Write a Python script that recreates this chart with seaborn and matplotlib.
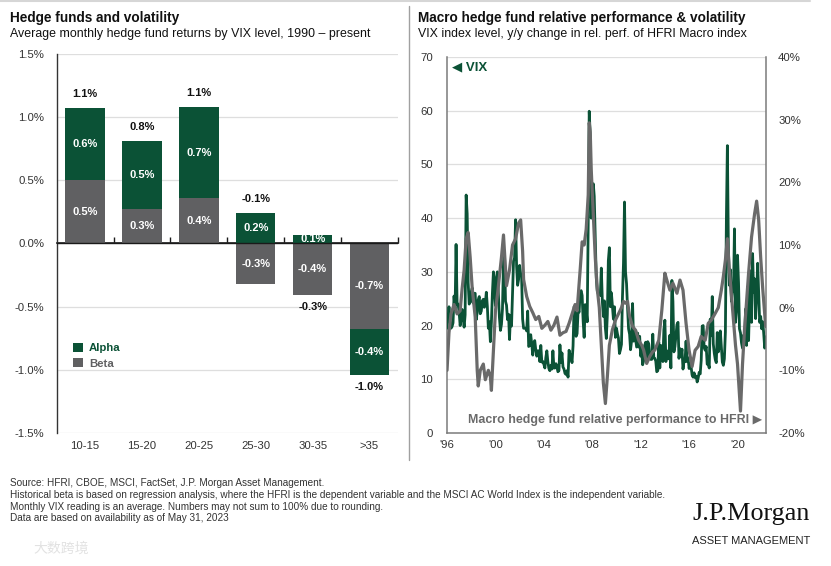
import numpy as np
import pandas as pd
import matplotlib
matplotlib.use("Agg")
import matplotlib.pyplot as plt
from matplotlib.lines import Line2D
from matplotlib.patches import Patch
from matplotlib import font_manager
from matplotlib.ticker import FuncFormatter
import seaborn as sns

# ---------------- data ----------------
vix_levels = ["10-15", "15-20", "20-25", "25-30", "30-35", ">35"]
beta_return = [0.50, 0.27, 0.36, -0.32, -0.41, -0.675]
alpha_return = [0.574, 0.545, 0.72, 0.245, 0.07, -0.365]
total_label_side = ["above", "above", "above", "above", "below", "below"]

vix_first_month = "1997-01"
vix_month_end = [
    19.5, 21.5, 23.5, 21.0, 19.5, 19.8, 20.5, 25.5, 23.0, 35.1, 24.0, 24.0,
    22.5, 20.0, 21.2, 23.0, 21.5, 19.7, 22.0, 44.3, 40.8, 28.0, 24.0, 24.4,
    26.3, 27.0, 24.2, 26.0, 26.0, 21.1, 22.5, 24.8, 25.4, 22.2, 22.7, 24.6,
    24.9, 23.4, 24.1, 26.2, 23.6, 19.5, 20.7, 17.0, 20.6, 26.0, 30.0, 26.9,
    23.7, 29.0, 30.0, 25.5, 21.5, 19.1, 20.2, 23.1, 31.9, 33.6, 24.5, 23.8,
    21.1, 22.1, 17.4, 21.9, 19.9, 25.8, 32.0, 32.6, 39.7, 31.1, 27.5, 28.6,
    31.2, 29.6, 29.2, 21.2, 19.5, 19.5, 19.5, 19.0, 22.7, 16.1, 16.3, 18.3,
    16.6, 14.5, 16.7, 17.2, 15.5, 14.3, 15.3, 15.3, 13.3, 16.3, 13.2, 13.3,
    12.8, 12.1, 14.0, 15.3, 13.3, 12.0, 11.6, 12.6, 11.9, 15.3, 12.1, 12.1,
    12.9, 12.3, 11.4, 11.6, 16.4, 13.1, 14.9, 12.3, 11.9, 11.1, 10.9, 11.6,
    10.4, 15.4, 14.6, 14.2, 13.1, 16.2, 23.5, 23.4, 18.0, 18.5, 22.9, 22.5,
    26.2, 26.5, 25.6, 20.8, 17.8, 23.9, 22.9, 20.7, 39.4, 59.9, 55.3, 40.0,
    44.8, 46.4, 44.1, 36.5, 28.9, 26.4, 25.9, 26.0, 25.6, 30.7, 24.5, 21.7,
    24.6, 19.5, 17.6, 22.1, 32.1, 34.5, 23.5, 26.1, 23.7, 21.2, 23.5, 17.8,
    19.5, 18.4, 17.7, 14.8, 15.5, 16.5, 25.3, 31.6, 43.0, 30.0, 27.8, 23.4,
    19.4, 18.4, 15.5, 17.2, 24.1, 17.1, 18.9, 17.5, 16.0, 18.6, 16.0, 18.0,
    14.3, 15.5, 12.7, 13.5, 16.3, 16.9, 13.5, 17.0, 16.6, 13.8, 13.7, 13.7,
    18.4, 14.0, 13.9, 13.4, 11.4, 11.6, 17.0, 12.1, 16.3, 14.0, 13.3, 19.2,
    21.0, 13.3, 15.3, 14.6, 13.8, 18.2, 12.1, 28.4, 24.5, 15.1, 16.1, 18.2,
    20.2, 20.6, 13.9, 15.7, 14.2, 15.6, 11.9, 13.4, 13.3, 17.1, 13.3, 14.0,
    12.0, 12.9, 12.4, 10.8, 10.4, 11.2, 10.3, 10.6, 9.5, 10.2, 11.3, 11.0,
    13.5, 19.9, 20.0, 15.9, 15.4, 16.1, 12.8, 12.9, 12.1, 21.2, 18.1, 25.4,
    16.6, 14.8, 13.7, 13.1, 18.7, 15.1, 16.1, 19.0, 16.2, 13.2, 12.6, 13.8,
    18.8, 40.1, 53.5, 34.2, 27.5, 30.4, 24.5, 26.4, 26.4, 38.0, 20.6, 22.8,
    33.1, 27.9, 19.4, 18.6, 16.8, 15.8, 18.2, 16.5, 23.1, 16.3, 27.2, 17.2,
    24.8, 30.2, 20.6, 33.4, 26.2, 28.7, 21.3, 25.9, 31.6, 25.9, 20.6, 21.7,
    19.4, 20.7, 18.7, 15.8, 17.9,
]

macro_rel_dates = [
    "1997-01", "1997-03", "1997-05", "1997-08", "1997-11", "1998-02", "1998-04",
    "1998-06", "1998-08", "1998-10", "1998-12", "1999-02", "1999-05", "1999-07",
    "1999-08", "1999-10", "2000-01", "2000-03", "2000-06", "2000-08", "2000-09",
    "2000-11", "2001-01", "2001-03", "2001-05", "2001-07", "2001-09", "2001-11",
    "2001-12", "2002-03", "2002-06", "2002-09", "2002-12", "2003-02", "2003-04",
    "2003-05", "2003-08", "2003-11", "2004-02", "2004-05", "2004-08", "2004-11",
    "2005-02", "2005-05", "2005-08", "2005-11", "2006-02", "2006-05", "2006-08",
    "2006-11", "2007-02", "2007-05", "2007-08", "2007-10", "2008-01", "2008-03",
    "2008-05", "2008-07", "2008-09", "2008-10", "2008-11", "2008-12", "2009-02",
    "2009-04", "2009-06", "2009-08", "2009-10", "2009-12", "2010-02", "2010-04",
    "2010-06", "2010-09", "2010-12", "2011-03", "2011-06", "2011-08", "2011-10",
    "2011-12", "2012-02", "2012-05", "2012-08", "2012-11", "2013-02", "2013-04",
    "2013-07", "2013-10", "2014-01", "2014-03", "2014-07", "2014-10", "2015-01",
    "2015-03", "2015-06", "2015-09", "2016-01", "2016-04", "2016-07", "2016-10",
    "2017-01", "2017-04", "2017-07", "2017-10", "2018-01", "2018-05", "2018-08",
    "2018-11", "2019-03", "2019-06", "2019-09", "2019-11", "2020-01", "2020-03",
    "2020-05", "2020-07", "2020-09", "2020-11", "2021-01", "2021-04", "2021-06",
    "2021-08", "2021-10", "2021-12", "2022-03", "2022-06", "2022-08", "2022-10",
    "2022-12", "2023-02", "2023-05",
]
macro_rel_perf = [
    -10.0, -4.0, -1.0, 0.5, -1.0, -0.5, 3.0,
    6.0, 11.0, 12.0, 8.0, 3.0, -1.5, -10.0,
    -12.5, -10.0, -9.0, -11.5, -10.0, -11.0, -13.2,
    -7.0, -0.5, 2.0, 5.0, 8.0, 11.6, 6.0,
    3.5, 6.0, 10.0, 11.0, 13.5, 14.0, 9.0,
    4.5, 1.8, 0.2, -0.8, -1.9, -1.4, -3.3,
    -2.8, -2.2, -3.6, -2.8, -1.5, -4.4, -4.0,
    -3.8, -2.5, -1.0, 0.5, -0.5, 6.0, 10.5,
    10.0, 12.5, 18.0, 29.5, 28.0, 22.0, 15.0,
    8.0, 3.0, 0.0, -6.0, -12.0, -15.3, -11.0,
    -6.0, -3.5, -2.0, -1.0, 0.0, 1.0, 0.7,
    1.0, -1.4, -3.0, -3.6, -5.2, -6.0, -6.8,
    -8.9, -7.8, -7.0, -6.8, -5.2, -0.4, 5.5,
    4.4, 2.8, 3.9, 2.3, 4.4, 2.8, -2.5,
    -6.8, -9.4, -6.8, -6.2, -4.6, -5.2, -2.5,
    -2.0, -0.9, 0.0, 2.8, 5.0, 7.6, 11.0,
    6.0, 2.0, -2.0, -6.0, -9.0, -16.5, -9.0,
    -3.5, 1.0, 5.5, 11.3, 15.0, 17.0, 14.0,
    8.0, 3.0, -3.0,
]

bar_ticks = [-1.5, -1.0, -0.5, 0.0, 0.5, 1.0, 1.5]
vix_ticks = [0, 10, 20, 30, 40, 50, 60, 70]
rel_ticks = [-20, -10, 0, 10, 20, 30, 40]
year_ticks = [1996, 2000, 2004, 2008, 2012, 2016, 2020]

# ---------------- style ----------------
sns.set_theme(style="white")
avail = {f.name for f in font_manager.fontManager.ttflist}
BASE = "Liberation Sans" if "Liberation Sans" in avail else "DejaVu Sans"
SERIF = "Liberation Serif" if "Liberation Serif" in avail else "DejaVu Serif"
plt.rcParams["font.family"] = [BASE, "DejaVu Sans"]

GREEN = "#0b5236"
GRAYBAR = "#606062"
GRAYLINE = "#6a6a6a"
GRID = "#dedede"
TXT = "#333333"

fig = plt.figure(figsize=(8.31, 5.66), dpi=100)

# ---------------- left: bars ----------------
ax1 = fig.add_axes([0.0682, 0.235, 0.4107, 0.6696])
bars = pd.DataFrame({"level": vix_levels, "beta": beta_return, "alpha": alpha_return})
b = np.array(beta_return)
a = np.array(alpha_return)
alpha_bottom = np.where(np.sign(a) == np.sign(b), b, 0.0)

sns.barplot(data=bars, x="level", y="beta", color=GRAYBAR, saturation=1,
            width=0.69, linewidth=0, errorbar=None, ax=ax1, zorder=3)
sns.barplot(data=bars, x="level", y="alpha", bottom=alpha_bottom, color=GREEN,
            saturation=1, width=0.69, linewidth=0, errorbar=None, ax=ax1, zorder=3)

ax1.set_xlim(-0.5, len(vix_levels) - 0.5)
ax1.set_ylim(bar_ticks[0], bar_ticks[-1])
ax1.set_yticks(bar_ticks)
ax1.yaxis.set_major_formatter(FuncFormatter(lambda v, p: f"{v:.1f}%"))
ax1.set_xlabel("")
ax1.set_ylabel("")
ax1.grid(False)
for v in bar_ticks:
    if v != 0:
        ax1.axhline(v, color=GRID, lw=0.9, zorder=1)
ax1.axhline(0, color="#1a1a1a", lw=1.0, zorder=4)
for s in ["top", "right", "bottom"]:
    ax1.spines[s].set_visible(False)
ax1.spines["left"].set_color("#333333")
ax1.spines["left"].set_linewidth(1.0)
ax1.tick_params(axis="y", length=0, labelsize=8.2, labelcolor=TXT, pad=9)
ax1.tick_params(axis="x", length=0, labelsize=8.2, labelcolor=TXT, pad=6)

sec = ax1.secondary_xaxis(0.5)
sec.set_xticks([i + 0.5 for i in range(len(vix_levels))])
sec.set_xticklabels([""] * len(vix_levels))
sec.tick_params(axis="x", direction="out", length=4, width=1, color="#1a1a1a")
sec.spines["bottom"].set_visible(False)

for i in range(len(vix_levels)):
    ax1.text(i, b[i] / 2, f"{b[i]:.1f}%", ha="center", va="center", color="white",
             weight="bold", size=8, zorder=6)
    ax1.text(i, alpha_bottom[i] + a[i] / 2, f"{a[i]:.1f}%", ha="center", va="center",
             color="white", weight="bold", size=8, zorder=6)
    tot = a[i] + b[i]
    pos_top = max(a[i], 0) + max(b[i], 0)
    neg_bot = min(a[i], 0) + min(b[i], 0)
    if total_label_side[i] == "above":
        ax1.annotate(f"{tot:.1f}%", (i, pos_top), xytext=(0, 10), textcoords="offset points",
                     ha="center", va="center", weight="bold", size=8, color="#111111")
    else:
        ax1.annotate(f"{tot:.1f}%", (i, neg_bot), xytext=(0, -8.5), textcoords="offset points",
                     ha="center", va="center", weight="bold", size=8, color="#111111")

handles = [Patch(facecolor=GREEN, edgecolor="none"), Patch(facecolor=GRAYBAR, edgecolor="none")]
leg = ax1.legend(handles, ["Alpha", "Beta"], loc="center left", bbox_to_anchor=(0.018, 0.204),
                 frameon=False, handlelength=0.85, handleheight=0.85, handletextpad=0.55,
                 labelspacing=0.45, prop={"weight": "bold", "size": 8.2})
for t, c in zip(leg.get_texts(), [GREEN, GRAYBAR]):
    t.set_color(c)

# ---------------- right: lines ----------------
ax2 = fig.add_axes([0.5379, 0.235, 0.3835, 0.6643])
vix_dates = pd.date_range(vix_first_month, periods=len(vix_month_end), freq="MS")
sns.lineplot(x=vix_dates, y=vix_month_end, color=GREEN, lw=2.0, ax=ax2, zorder=3)
ax2r = ax2.twinx()
sns.lineplot(x=pd.to_datetime(macro_rel_dates), y=macro_rel_perf, color=GRAYLINE, lw=2.3,
             ax=ax2r, zorder=3)

xmin = pd.Timestamp("1996-12-31")
xmax = vix_dates[-1]
ax2.set_xlim(xmin, xmax)
ax2.set_ylim(vix_ticks[0], vix_ticks[-1])
ax2.set_yticks(vix_ticks)
ax2r.set_ylim(rel_ticks[0], rel_ticks[-1])
ax2r.set_yticks(rel_ticks)
ax2r.yaxis.set_major_formatter(FuncFormatter(lambda v, p: f"{v:.0f}%"))
ax2.set_xticks([pd.Timestamp(f"{y}-12-31") for y in year_ticks])
ax2.set_xticklabels([f"'{str(y)[2:]}" for y in year_ticks])
for axx in (ax2, ax2r):
    axx.set_xlabel("")
    axx.set_ylabel("")
    axx.grid(False)
for v in vix_ticks[1:]:
    ax2.axhline(v, color=GRID, lw=0.9, zorder=1)
ax2.spines["top"].set_visible(False)
ax2.spines["right"].set_visible(False)
for s in ["left", "bottom"]:
    ax2.spines[s].set_color("#7a7a7a")
    ax2.spines[s].set_linewidth(1.1)
for s in ["top", "left", "bottom"]:
    ax2r.spines[s].set_visible(False)
ax2r.spines["right"].set_color("#7a7a7a")
ax2r.spines["right"].set_linewidth(1.1)
ax2.tick_params(axis="x", direction="in", length=4, width=1, color="#7a7a7a",
                labelsize=8.2, labelcolor=TXT, pad=5)
ax2.tick_params(axis="y", length=0, labelsize=8.2, labelcolor=TXT, pad=10)
ax2r.tick_params(axis="y", length=0, labelsize=8.2, labelcolor=TXT, pad=9)

ax2.text(0.015, 0.972, "\u25C0 VIX", transform=ax2.transAxes, ha="left", va="center",
         color=GREEN, weight="bold", size=9.5, family=[BASE, "DejaVu Sans"])
ax2r.text(0.99, 0.035, "Macro hedge fund relative performance to HFRI \u25B6",
          transform=ax2r.transAxes, ha="right", va="center", color=GRAYLINE,
          weight="bold", size=8.9, family=[BASE, "DejaVu Sans"], zorder=5)

# ---------------- titles & notes ----------------
fig.text(0.012, 0.968, "Hedge funds and volatility", weight="bold", size=9.8,
         va="center", color="#111111")
fig.text(0.012, 0.940, "Average monthly hedge fund returns by VIX level, 1990 \u2013 present",
         size=8.9, va="center", color="#111111")
fig.text(0.503, 0.968, "Macro hedge fund relative performance & volatility", weight="bold",
         size=9.8, va="center", color="#111111")
fig.text(0.503, 0.940, "VIX index level, y/y change in rel. perf. of HFRI Macro index",
         size=8.9, va="center", color="#111111")

notes = ("Source: HFRI, CBOE, MSCI, FactSet, J.P. Morgan Asset Management.\n"
         "Historical beta is based on regression analysis, where the HFRI is the dependent "
         "variable and the MSCI AC World Index is the independent variable.\n"
         "Monthly VIX reading is an average. Numbers may not sum to 100% due to rounding.\n"
         "Data are based on availability as of May 31, 2023")
fig.text(0.012, 1 - 478 / 566, notes, size=7.2, va="top", ha="left", color=TXT,
         linespacing=1.22)

fig.text(0.975, 1 - 514 / 566, "J.P.Morgan", family=SERIF, size=18.8, ha="right",
         va="center", color="#111111")
fig.text(0.975, 1 - 541 / 566, "ASSET MANAGEMENT", size=8, ha="right", va="center",
         color="#222222")
fig.text(0.04, 1 - 549 / 566, "大数跨境", family=["Noto Sans CJK SC", "DejaVu Sans"],
         size=10, ha="left", va="center", color="#e2e2e2")

fig.add_artist(Line2D([409 / 831, 409 / 831], [1 - 6 / 566, 1 - 460 / 566],
                      transform=fig.transFigure, color="#a0a0a0", lw=1))
fig.add_artist(Line2D([0, 810 / 831], [1 - 1 / 566, 1 - 1 / 566],
                      transform=fig.transFigure, color="#d6d6d6", lw=1.5))

fig.savefig("out.png", dpi=100)
